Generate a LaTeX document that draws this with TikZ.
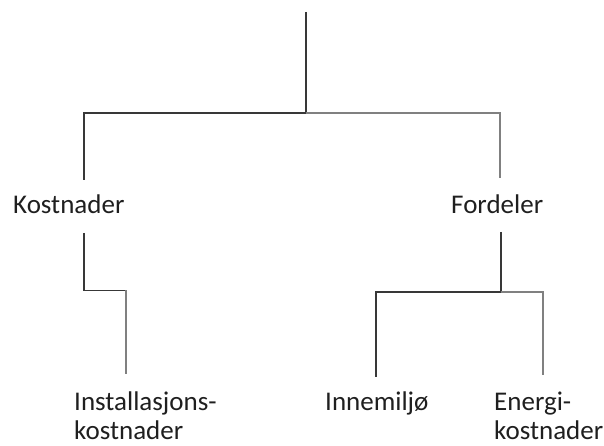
\documentclass[tikz,border=0pt]{standalone}
\usepackage{fontspec}
\setmainfont{Carlito}
\begin{document}
\begin{tikzpicture}[x=1pt,y=1pt,
  conn/.style={draw=black!78, line width=1.8pt},
  connlight/.style={draw=black!50, line width=1.8pt},
  lbl/.style={inner sep=0pt, font=\fontsize{27}{30}\selectfont, text=black!88}]
\useasboundingbox (0,0) rectangle (604,446);
% text nodes
\node[lbl, anchor=base west] (kost) at (13,232) {Kostnader};
\node[lbl, anchor=base west] (ford) at (451,232) {Fordeler};
\node[lbl, anchor=base west] (inst) at (74,35) {Installasjons-};
\node[lbl, anchor=base west] (inst2) at (74,6) {kostnader};
\node[lbl, anchor=base west] (inne) at (325,35) {Innemiljø};
\node[lbl, anchor=base west] (ener) at (494,35) {Energi-};
\node[lbl, anchor=base west] (ener2) at (494,6) {kostnader};
% connector points
\coordinate (top) at (306,434);
\coordinate (hub) at (306,333);
\coordinate (hubL) at (84,333);
\coordinate (hubR) at (500,333);
\coordinate (kostIn) at (84,266);
\coordinate (fordIn) at (500,268);
\coordinate (kostOut) at (84,213);
\coordinate (kostMid) at (84,155.5);
\coordinate (kostMid2) at (126,155.5);
\coordinate (instIn) at (126,72);
\coordinate (fordOut) at (501,214);
\coordinate (fordHub) at (501,154);
\coordinate (fordL) at (376,154);
\coordinate (fordR) at (543,154);
\coordinate (inneIn) at (376,69);
\coordinate (enerIn) at (543,71);
% connectors
\draw[conn] (top) -- (hub);
\draw[conn] (hub) -- (hubL) -- (kostIn);
\draw[connlight] (hub) -- (hubR) -- (fordIn);
\draw[conn] (kostOut) -- (kostMid) -- (kostMid2);
\draw[connlight] (kostMid2) -- (instIn);
\draw[conn] (fordOut) -- (fordHub);
\draw[conn] (fordHub) -- (fordL) -- (inneIn);
\draw[connlight] (fordHub) -- (fordR) -- (enerIn);
\end{tikzpicture}
\end{document}
